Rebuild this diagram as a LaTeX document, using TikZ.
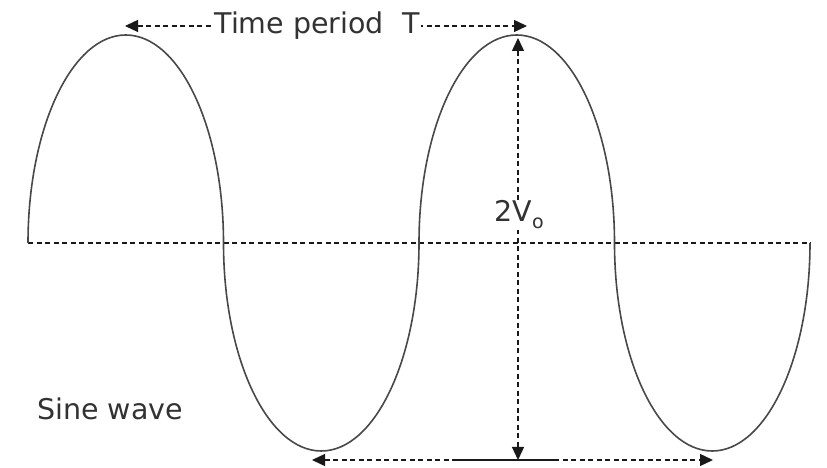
\documentclass[tikz,border=0pt]{standalone}
\usepackage{fontspec}
\setmainfont{DejaVu Sans}
\usepackage{tikz}
\usetikzlibrary{arrows.meta, calc}
\definecolor{wavegray}{RGB}{72, 72, 72}
\definecolor{textgray}{RGB}{50, 50, 50}
\definecolor{dashgray}{RGB}{25, 25, 25}

\begin{document}
\begin{tikzpicture}[x=1pt, y=1pt, every node/.style={font=\fontsize{28.5}{31}\selectfont, text=textgray, inner sep=1pt},
  dimline/.style={dashgray, line width=1.3pt, dash pattern=on 5pt off 3.5pt, {Triangle[length=13pt, width=12pt]}-{Triangle[length=13pt, width=12pt]}},
  hump/.style={x radius=97.75, y radius=208}]
\useasboundingbox (0,0) rectangle (827,468);
% zero line and the wave
\coordinate (z0) at (28,225);
\coordinate (z4) at (811,225);
\draw[dashgray, line width=1.3pt, dash pattern=on 5pt off 3.5pt] (z0) -- (z4);
\draw[wavegray, line width=1.6pt] (z0)
  arc[start angle=180, end angle=0, hump]
  arc[start angle=180, end angle=360, hump]
  arc[start angle=180, end angle=0, hump]
  arc[start angle=180, end angle=360, hump];
% period
\coordinate (tl) at (125,442);
\coordinate (tr) at (527,442);
\draw[dimline] (tl) -- (tr);
\node[fill=white] (tper) at (317,442) {Time period\ \ T};
% peak to peak
\coordinate (vt) at (518,430);
\coordinate (vb) at (518,8);
\draw[dimline] (vt) -- (vb);
\node[fill=white] (amp) at (519,253) {2V\raisebox{-7pt}{\fontsize{19}{19}\selectfont o}};
% bottom
\coordinate (bl) at (312,8);
\coordinate (br) at (713,8);
\draw[dimline] (bl) -- (br);
\draw[dashgray, line width=1.3pt] (457,8) -- (558,8);
\node (lbl) at (110,59) {Sine wave};
\end{tikzpicture}
\end{document}
